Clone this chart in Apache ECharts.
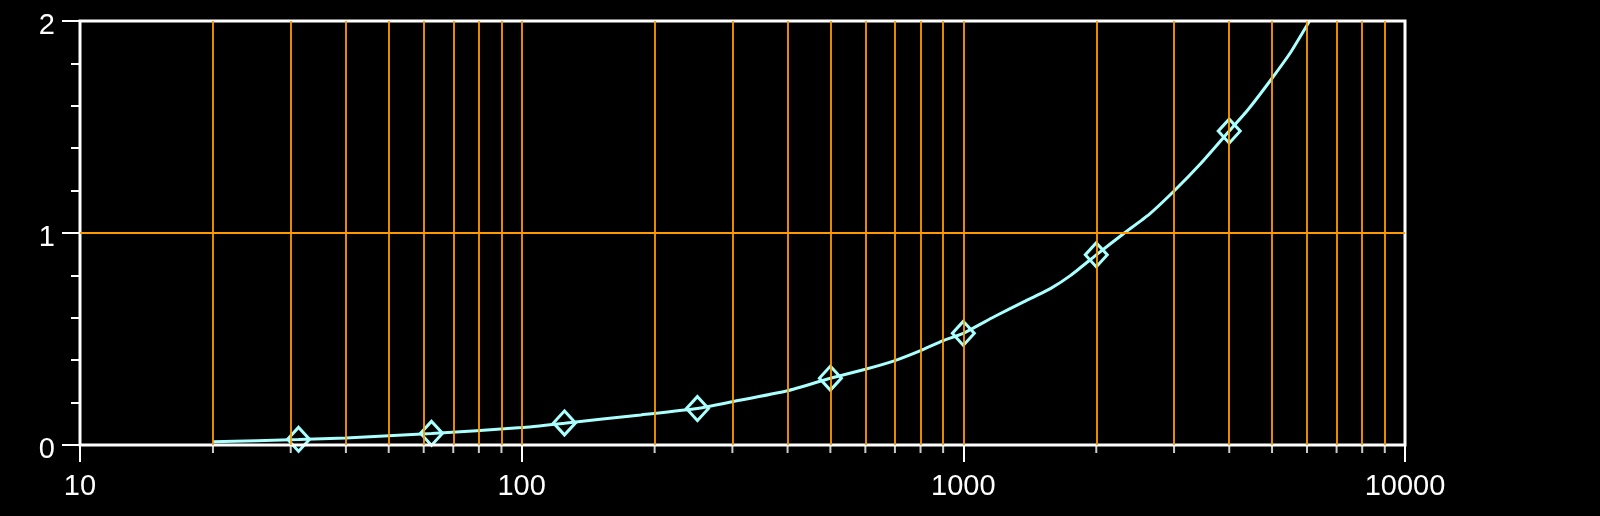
<!DOCTYPE html>
<html>
<head>
<meta charset="utf-8">
<script src="https://cdn.jsdelivr.net/npm/echarts@6/dist/echarts.min.js"></script>
<style>
html,body{margin:0;padding:0;background:#000;}
#chart{width:1600px;height:516px;}
</style>
</head>
<body>
<div id="chart"></div>
<script>
// Fitted curve
const curveX = [20, 31.25, 40, 62.5, 100, 125, 186, 250, 300, 400, 500, 600, 700, 800, 900, 1000, 1174, 1373, 1578, 1750, 2000, 2312, 2635, 3000, 3452, 4000, 4405, 5000, 5520, 6000, 6072];
const curveY = [0.015, 0.026, 0.033, 0.054, 0.082, 0.103, 0.142, 0.172, 0.204, 0.256, 0.315, 0.357, 0.398, 0.445, 0.492, 0.527, 0.605, 0.676, 0.739, 0.800, 0.897, 0.999, 1.088, 1.198, 1.329, 1.481, 1.580, 1.730, 1.855, 1.980, 2.0];
// Measured points (diamonds)
const pointX = [31.25, 62.5, 125, 250, 500, 1000, 2000, 4000];
const pointY = [0.027, 0.055, 0.104, 0.172, 0.315, 0.527, 0.897, 1.481];
// Axis values
const xMin = 10, xMax = 10000;
const yMin = 0, yMax = 2;
const gridLinesX = [20,30,40,50,60,70,80,90,100,200,300,400,500,600,700,800,900,1000,2000,3000,4000,5000,6000,7000,8000,9000];
const gridLinesY = [1];
const minorTicksX = [20,30,40,50,60,70,80,90,200,300,400,500,600,700,800,900,2000,3000,4000,5000,6000,7000,8000,9000];

const ORANGE = '#FF9900';
const CYAN = '#AAFFFF';
const FONT = '"Liberation Sans", Arial, sans-serif';

const chart = echarts.init(document.getElementById('chart'));
chart.setOption({
  backgroundColor: '#000',
  animation: false,
  grid: {
    left: 80, right: 195, top: 21, bottom: 71,
    show: true, borderColor: '#fff', borderWidth: 3,
    backgroundColor: 'transparent', z: 3
  },
  xAxis: {
    type: 'log', logBase: 10, min: xMin, max: xMax,
    axisLine: { show: false },
    axisTick: { show: true, length: 17, lineStyle: { color: '#fff', width: 2 } },
    axisLabel: { color: '#fff', fontSize: 29, fontFamily: FONT, margin: 27, formatter: v => String(v) },
    splitLine: { show: false },
    z: 3
  },
  yAxis: {
    type: 'value', min: yMin, max: yMax, interval: 1,
    axisLine: { show: false },
    axisTick: { show: true, length: 18, lineStyle: { color: '#fff', width: 2 } },
    minorTick: { show: true, splitNumber: 5, length: 9, lineStyle: { color: '#fff', width: 2 } },
    axisLabel: {
      color: '#fff', fontSize: 29, fontFamily: FONT, margin: 25,
      formatter: v => '{a|' + v + '}',
      rich: { a: { color: '#fff', fontSize: 29, fontFamily: FONT, padding: [9, 0, 0, 0] } }
    },
    splitLine: { show: false },
    z: 3
  },
  series: [
    {
      name: 'grid',
      type: 'scatter',
      data: minorTicksX.map(v => [v, 0]),
      symbol: 'rect',
      symbolSize: [2, 8],
      symbolOffset: [0, 4],
      itemStyle: { color: '#fff' },
      clip: false,
      silent: true,
      z: 1,
      markLine: {
        silent: true,
        symbol: ['none', 'none'],
        label: { show: false },
        lineStyle: { color: ORANGE, width: 1.8, type: 'solid', opacity: 1 },
        data: gridLinesX.map(v => ({ xAxis: v })).concat(gridLinesY.map(v => ({ yAxis: v })))
      }
    },
    {
      name: 'curve',
      type: 'line',
      data: curveX.map((x, i) => [x, curveY[i]]),
      showSymbol: false,
      symbol: 'none',
      smooth: 0.15,
      lineStyle: { color: CYAN, width: 3 },
      z: 2
    },
    {
      name: 'points',
      type: 'scatter',
      data: pointX.map((x, i) => [x, pointY[i]]),
      symbol: 'diamond',
      symbolSize: [22, 24],
      itemStyle: { color: 'rgba(0,0,0,0)', borderColor: CYAN, borderWidth: 3, opacity: 1 },
      z: 2
    }
  ]
});
</script>
</body>
</html>
